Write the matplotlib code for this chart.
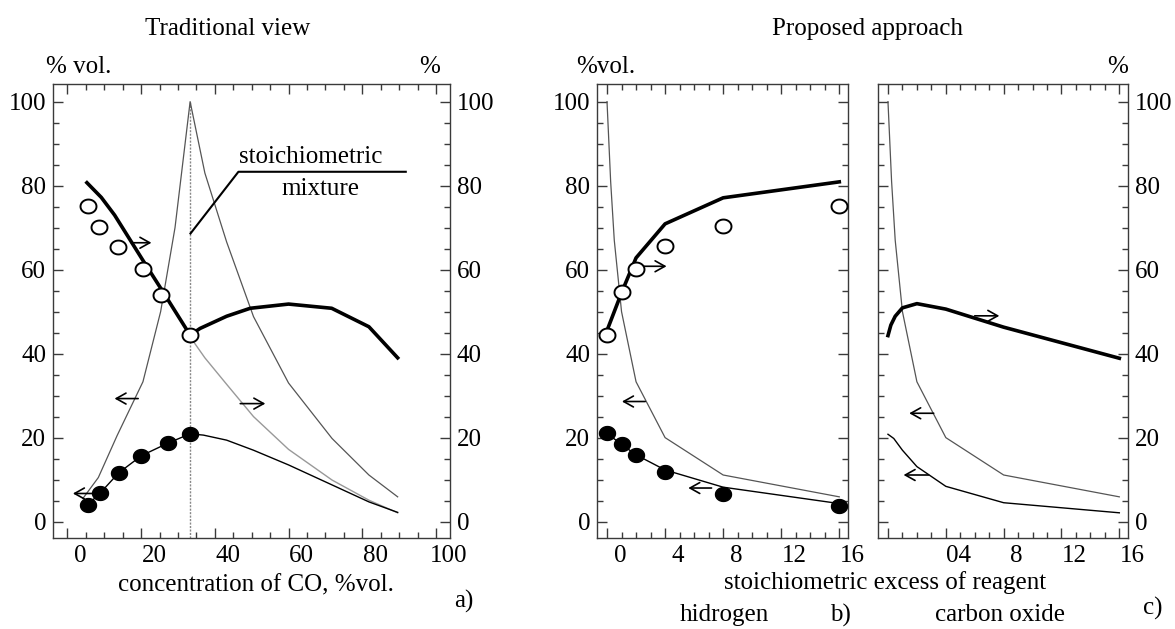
import numpy as np
import matplotlib
matplotlib.use("Agg")
import matplotlib.pyplot as plt
from matplotlib.path import Path
from matplotlib.transforms import ScaledTranslation
from matplotlib.ticker import MultipleLocator

# ---------------- data ----------------
# panel a) traditional view, x = concentration of CO, % vol.
a_open_x = [5.5, 8.7, 13.7, 20.5, 25.3, 33.3]
a_open_y = [75.1, 70.2, 65.4, 60.1, 53.9, 44.4]
a_fill_x = [5.5, 8.9, 13.9, 20.1, 27.3, 33.3]
a_fill_y = [4.0, 6.8, 11.6, 15.7, 18.7, 20.9]
a_thick_x = [5.3, 9.2, 12.8, 20.5, 25.3, 33.3, 36.0, 43.2, 49.6, 60.0, 71.7, 81.8, 89.6]
a_thick_y = [80.7, 77.2, 73.0, 62.2, 55.6, 44.4, 46.0, 48.9, 50.8, 51.8, 50.8, 46.4, 39.0]
a_peak_x = [4.2, 8.4, 13.5, 20.5, 25.3, 29.2, 33.3, 37.3, 43.2, 50.5, 60.0, 71.8, 81.8, 89.6]
a_peak_y = [5.5, 10.5, 20.5, 33.3, 50.0, 70.0, 100.0, 83.0, 66.6, 48.8, 33.0, 19.8, 11.1, 5.9]
a_gray_x = [33.3, 37.3, 43.2, 50.5, 60.0, 71.8, 81.8, 89.6]
a_gray_y = [44.0, 39.0, 32.7, 25.0, 17.2, 9.9, 5.1, 2.1]
a_low_x = [5.5, 8.9, 13.9, 20.1, 27.3, 33.3, 36.9, 43.2, 50.5, 60.0, 71.9, 81.8, 89.6]
a_low_y = [4.0, 6.8, 11.6, 15.7, 18.7, 20.9, 20.6, 19.4, 17.0, 13.5, 8.7, 4.7, 2.2]
a_stoich = 33.3

# panel b) excess of hydrogen
b_x = [0, 1, 2, 4, 8, 16]
b_open_y = [44.5, 54.7, 60.2, 65.6, 70.5, 75.1]
b_fill_y = [21.0, 18.4, 15.9, 11.9, 6.6, 3.8]
b_thick_y = [45.5, 54.5, 62.8, 70.9, 77.1, 80.9]
b_low_y = [21.0, 18.4, 15.9, 12.3, 8.2, 4.3]
b_thin_x = [0, 0.25, 0.5, 1, 2, 4, 8, 16]
b_thin_y = [100.0, 81.0, 67.0, 50.0, 33.3, 20.0, 11.1, 5.9]

# panel c) excess of carbon oxide
c_thin_x = [0, 0.25, 0.5, 1, 2, 4, 8, 16]
c_thin_y = [100.0, 81.0, 67.0, 50.0, 33.3, 20.0, 11.1, 5.9]
c_thick_x = [0, 0.2, 0.5, 1, 2, 4, 8, 16]
c_thick_y = [44.3, 46.8, 48.9, 50.9, 51.9, 50.6, 46.3, 38.9]
c_low_x = [0, 0.4, 1, 2, 4, 8, 16]
c_low_y = [20.8, 19.8, 17.0, 13.1, 8.4, 4.5, 2.1]

a_xticks = [0, 20, 40, 60, 80, 100]
bc_xticks = [0, 4, 8, 12, 16]
b_xticklabels = ["0", "4", "8", "12", "16"]
c_xticklabels = ["", "04", "8", "12", "16"]
yticks = [0, 20, 40, 60, 80, 100]

# arrows (start, end) in data coords
a_arrows = [((17.3, 66.4), (22.8, 66.4)), ((19.2, 29.3), (12.8, 29.3)),
            ((46.9, 28.1), (53.7, 28.1)), ((7.8, 6.7), (1.5, 6.7))]
b_arrows = [((2.3, 60.8), (4.1, 60.8)), ((2.63, 28.6), (1.03, 28.6)),
            ((7.2, 8.0), (5.6, 8.0))]
c_arrows = [((6.0, 49.0), (7.7, 49.0)), ((3.16, 25.8), (1.47, 25.8)),
            ((2.81, 11.1), (1.08, 11.1))]

# ---------------- style ----------------
plt.rcParams["font.family"] = ["Liberation Serif", "DejaVu Serif"]
plt.rcParams["font.size"] = 18
FS = 18
W, H = 1175, 629
fig = plt.figure(figsize=(W / 100, H / 100), dpi=100)

def fax(x0, x1, y0, y1):
    return fig.add_axes([x0 / W, 1 - y1 / H, (x1 - x0) / W, (y1 - y0) / H])

axA = fax(53, 450, 84, 538)
axB = fax(597, 848, 84, 538)
axC = fax(878, 1128, 84, 538)

th = np.linspace(0, 2 * np.pi, 80)
ell = Path(np.column_stack([1.15 * np.cos(th), np.sin(th)]), closed=True)
MS = 11.5

SPC = "#3a3a3a"
for ax in (axA, axB, axC):
    ax.set_ylim(-3.9, 104.2)
    ax.set_yticks(yticks)
    ax.yaxis.set_minor_locator(MultipleLocator(5))
    for s in ax.spines.values():
        s.set_color(SPC)
        s.set_linewidth(1.0)
    ax.tick_params(which="both", direction="in", top=True, bottom=True,
                   left=True, right=True, color=SPC, width=1.0, labelsize=FS)
    ax.tick_params(which="major", length=7, pad=5)
    ax.tick_params(which="minor", length=4)

axA.set_xlim(-3.9, 103.8)
axA.set_xticks(a_xticks)
axA.xaxis.set_minor_locator(MultipleLocator(5))
axA.tick_params(labelleft=True, labelright=True)

for ax in (axB, axC):
    ax.set_xlim(-0.69, 16.6)
    ax.set_xticks(bc_xticks)
    ax.xaxis.set_minor_locator(MultipleLocator(1))
axB.set_xticklabels(b_xticklabels)
axC.set_xticklabels(c_xticklabels)
axB.tick_params(labelleft=True, labelright=False)
axC.tick_params(labelleft=False, labelright=True)

# misaligned tick labels as in reference (shifted right)
shift = ScaledTranslation(13 / 100, 0, fig.dpi_scale_trans)
for ax in (axA, axB, axC):
    for lab in ax.get_xticklabels():
        lab.set_transform(lab.get_transform() + shift)

def arrows(ax, lst):
    for (s, e) in lst:
        ax.annotate("", xy=e, xytext=s,
                    arrowprops=dict(arrowstyle="->,head_length=0.5,head_width=0.28",
                                    lw=1.2, color="black",
                                    shrinkA=0, shrinkB=0, mutation_scale=14))

# ---- panel a
axA.vlines(a_stoich, -3.9, 100, color="#888888", lw=1.0, linestyles=(0, (1.5, 1)))
axA.plot(a_peak_x, a_peak_y, color="#555555", lw=0.9)
axA.plot(a_gray_x, a_gray_y, color="#999999", lw=1.0)
axA.plot(a_low_x, a_low_y, color="black", lw=1.0)
axA.plot(a_thick_x, a_thick_y, color="black", lw=2.6, solid_joinstyle="round")
axA.plot(a_fill_x, a_fill_y, ls="none", marker=ell, ms=MS, color="black", zorder=5)
axA.plot(a_open_x, a_open_y, ls="none", marker=ell, ms=MS, mfc="white",
         mec="black", mew=1.4, zorder=6)
axA.plot([33.4, 46.4, 91.8], [68.6, 83.3, 83.3], color="black", lw=1.5)
axA.text(65.9, 86.8, "stoichiometric", ha="center", va="center", fontsize=FS)
axA.text(68.7, 79.3, "mixture", ha="center", va="center", fontsize=FS)
arrows(axA, a_arrows)

# ---- panel b
axB.plot(b_thin_x, b_thin_y, color="#555555", lw=0.9)
axB.plot(b_x, b_low_y, color="black", lw=1.0)
axB.plot(b_x, b_thick_y, color="black", lw=2.6, solid_joinstyle="round")
axB.plot(b_x, b_fill_y, ls="none", marker=ell, ms=MS, color="black", zorder=5)
axB.plot(b_x, b_open_y, ls="none", marker=ell, ms=MS, mfc="white",
         mec="black", mew=1.4, zorder=6, clip_on=False)
arrows(axB, b_arrows)

# ---- panel c
axC.plot(c_thin_x, c_thin_y, color="#555555", lw=0.9)
axC.plot(c_low_x, c_low_y, color="black", lw=1.0)
axC.plot(c_thick_x, c_thick_y, color="black", lw=2.6, solid_joinstyle="round")
arrows(axC, c_arrows)

# ---- figure texts
def ft(x, y, s, **kw):
    fig.text(x / W, 1 - y / H, s, ha="center", va="center", fontsize=FS, **kw)

ft(228, 29, "Traditional view")
ft(867, 29, "Proposed approach")
ft(79, 67, "% vol.")
ft(430, 67, "%")
ft(606, 67, "%vol.")
ft(1118, 67, "%")
ft(256, 585, "concentration of CO, %vol.")
ft(464, 601, "a)")
ft(885, 583, "stoichiometric excess of reagent")
ft(724, 615, "hidrogen")
ft(840, 615, "b)")
ft(1000, 615, "carbon oxide")
ft(1153, 608, "c)")

fig.savefig("out.png", dpi=100)
